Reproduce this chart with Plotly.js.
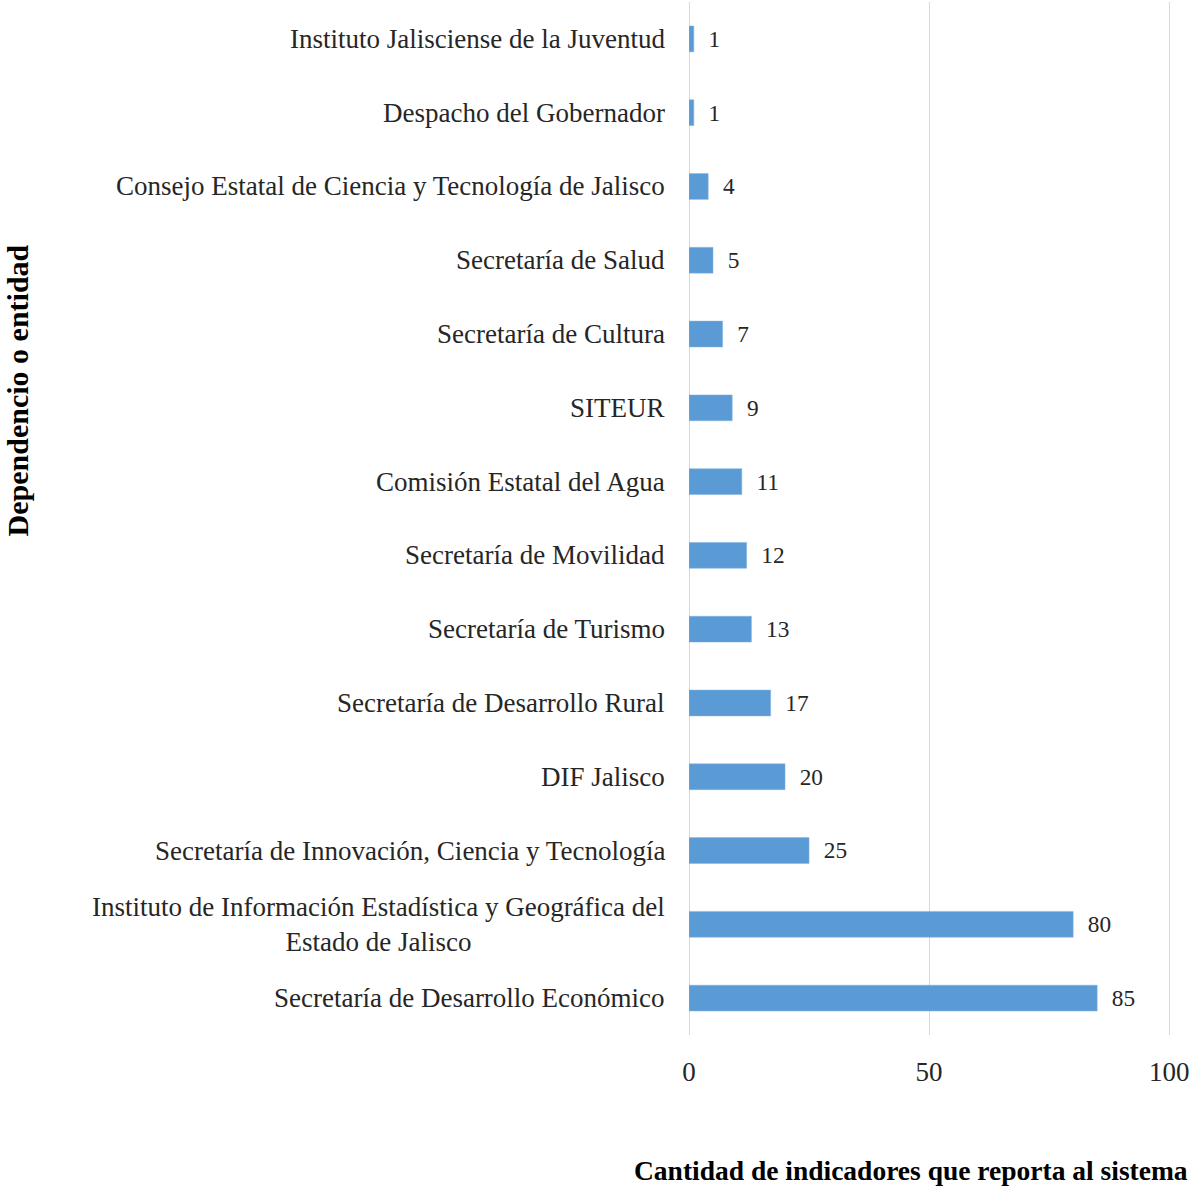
<!DOCTYPE html>
<html>
<head>
<meta charset="utf-8">
<script src="https://cdn.plot.ly/plotly-3.0.1.min.js"></script>
<style>html,body{margin:0;padding:0;background:#fff;}#chart{width:1194px;height:1186px;}</style>
</head>
<body>
<div id="chart"></div>
<script>
// Data (bottom to top)
const categories = [
  "Secretaría de Desarrollo Económico",
  "Instituto de Información Estadística y Geográfica del<br>Estado de Jalisco",
  "Secretaría de Innovación, Ciencia y Tecnología",
  "DIF Jalisco",
  "Secretaría de Desarrollo Rural",
  "Secretaría de Turismo",
  "Secretaría de Movilidad",
  "Comisión Estatal del Agua",
  "SITEUR",
  "Secretaría de Cultura",
  "Secretaría de Salud",
  "Consejo Estatal de Ciencia y Tecnología de Jalisco",
  "Despacho del Gobernador",
  "Instituto Jalisciense de la Juventud"
];
const values = [85, 80, 25, 20, 17, 13, 12, 11, 9, 7, 5, 4, 1, 1];
const xTicks = [0, 50, 100];
const xTitle = "Cantidad de indicadores que reporta al sistema";
const yTitle = "Dependencio o entidad";

const FONT = "Liberation Serif, Times New Roman, serif";

const trace = {
  type: "bar",
  orientation: "h",
  y: categories,
  x: values,
  marker: { color: "#5b9bd5", line: { color: "#7fb2e0", width: 0.5 } },
  width: 0.35,
  text: values.map(String),
  texttemplate: "\u00a0\u00a0%{x}",
  textposition: "outside",
  cliponaxis: false,
  textfont: { family: FONT, size: 28, color: "#262626" },
  hoverinfo: "none"
};

const annotations = categories.map(c => ({
  xref: "paper", yref: "y", x: 0, y: c,
  text: c, showarrow: false, xanchor: "right", yanchor: "middle",
  xshift: -22, align: "center",
  font: { family: FONT, size: 27, color: "#262626" }
}));
// y-axis title
annotations.push({
  xref: "paper", yref: "paper", x: 0, y: 0.624,
  xanchor: "center", yanchor: "middle", xshift: -672,
  text: "<b>" + yTitle + "</b>", textangle: -90, showarrow: false,
  font: { family: FONT, size: 30, color: "#000" }
});
// x-axis title
annotations.push({
  xref: "paper", yref: "paper", x: 1, y: 0, xshift: 16,
  yshift: -135,
  xanchor: "right", yanchor: "middle",
  text: "<b>" + xTitle + "</b>", showarrow: false,
  font: { family: FONT, size: 27.5, color: "#000" }
});

const layout = {
  width: 1194, height: 1186,
  margin: { l: 689, r: 20, t: 2, b: 151 },
  paper_bgcolor: "#fff", plot_bgcolor: "#fff",
  showlegend: false,
  bargap: 0.65,
  xaxis: {
    range: [0, 101],
    tickvals: xTicks,
    ticktext: xTicks.map(String),
    showgrid: true, gridcolor: "#d9d9d9", gridwidth: 1,
    zeroline: true, zerolinecolor: "#d9d9d9", zerolinewidth: 1,
    showline: false, ticks: "",
    ticklabelstandoff: 18,
    tickfont: { family: FONT, size: 27, color: "#262626" },
    automargin: false, fixedrange: true
  },
  yaxis: {
    type: "category",
    categoryorder: "array", categoryarray: categories,
    showticklabels: false, ticks: "", showgrid: false, zeroline: false, showline: false,
    automargin: false, fixedrange: true
  },
  annotations: annotations
};

Plotly.newPlot("chart", [trace], layout, { displayModeBar: false, staticPlot: true });
</script>
</body>
</html>
